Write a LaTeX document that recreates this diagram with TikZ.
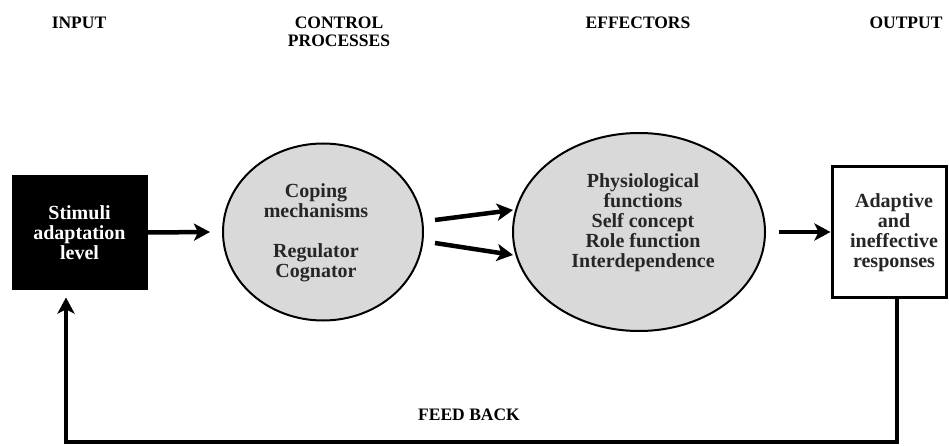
\documentclass[tikz,border=0pt]{standalone}
\usepackage{fontspec}
\setmainfont{Liberation Serif}
\usetikzlibrary{arrows.meta,shapes.geometric,calc}
\tikzset{
  hdr/.style={font=\bfseries\fontsize{17.5}{18}\selectfont, align=center, inner sep=0pt},
  body/.style={font=\bfseries\fontsize{20}{20}\selectfont, align=center, inner sep=0pt},
  blob/.style={ellipse, draw=black, line width=2pt, fill=gray!30, inner sep=0pt},
  arr/.style={line width=4.5pt, -{Stealth[length=16pt,width=17pt,inset=4pt]}},
  fb/.style={line width=4pt},
}
\begin{document}
\begin{tikzpicture}[x=1pt,y=-1pt]
\useasboundingbox (0,0) rectangle (949,446);
% headers
\node[hdr] (hin) at (79,23) {INPUT};
\node[hdr] (hcp) at (339,32) {CONTROL\\PROCESSES};
\node[hdr] (hef) at (638,23) {EFFECTORS};
\node[hdr] (hout) at (906,23) {OUTPUT};
% input box
\node[draw=black, fill=black, line width=1pt, minimum width=135pt, minimum height=113pt, inner sep=0pt] (inbox) at (79.5,232.5) {};
\node[body, text=white] (intext) at (79.5,233) {Stimuli\\adaptation\\level};
% control ellipse
\node[blob, minimum width=200pt, minimum height=177pt] (e1) at (323,232) {};
\node[body, text=black!85] (e1t) at (316,233) {Coping\\mechanisms\\[20pt]Regulator\\Cognator};
% effectors ellipse
\node[blob, minimum width=252pt, minimum height=198pt] (e2) at (639,232) {};
\node[body, text=black!85] (e2t) at (643,223) {Physiological\\functions\\Self concept\\Role function\\Interdependence};
% output box
\node[draw=black, fill=white, line width=3pt, minimum width=114pt, minimum height=130pt, inner sep=0pt] (outbox) at (889,232) {};
\node[body, text=black!85] (outt) at (894,233) {Adaptive\\and\\ineffective\\responses};
% connectors
\draw[arr] (inbox.east) -- ([xshift=-12pt]e1.west);
\coordinate (a1s) at (435,220);
\coordinate (a1e) at (513,210);
\coordinate (a2s) at (435,243);
\coordinate (a2e) at (513,255);
\draw[arr] (a1s) -- (a1e);
\draw[arr] (a2s) -- (a2e);
\draw[arr] ([xshift=13pt]e2.east) -- (outbox.west);
\draw[fb] ([xshift=8pt]outbox.south) -- (897,442) -- (64,442);
\draw[arr] (66,444) -- ([xshift=-13.5pt,yshift=-8pt]inbox.south);
\node[hdr] (fbl) at (469,415) {FEED BACK};
\end{tikzpicture}
\end{document}
